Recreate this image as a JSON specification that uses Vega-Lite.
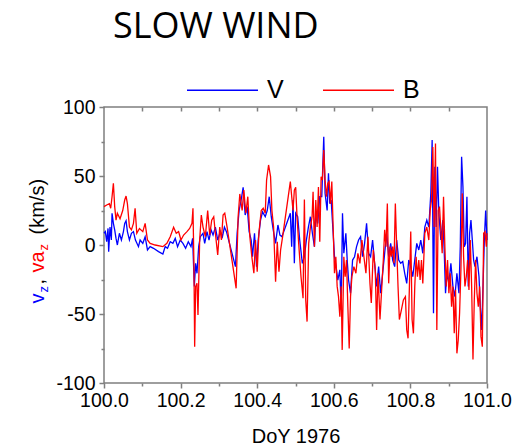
{
  "$schema": "https://vega.github.io/schema/vega-lite/v6.json",
  "width": 383,
  "height": 276,
  "autosize": {"type": "none"},
  "padding": {"left": 104, "top": 107, "right": 41, "bottom": 63},
  "background": "white",
  "title": {"text": "SLOW WIND", "font": "Open Sans", "fontSize": 36, "fontWeight": "normal", "color": "black", "anchor": "start", "frame": "group", "dx": 9, "dy": 20.5, "baseline": "alphabetic", "offset": 0},
  "config": {
    "view": {"stroke": "#7f7f7f", "strokeWidth": 1.5},
    "axis": {"grid": false, "domain": false, "labelFont": "Liberation Sans", "titleFont": "Liberation Sans", "labelColor": "black", "titleColor": "black", "tickColor": "#7f7f7f", "tickWidth": 1.5, "titleFontWeight": "normal"}
  },
  "datasets": {
    "main": [
      {"t":100.0000,"v":8.5,"s":"V"},{"t":100.0035,"v":9.7,"s":"V"},{"t":100.0070,"v":2.4,"s":"V"},{"t":100.0105,"v":12,"s":"V"},{"t":100.0122,"v":-4.8,"s":"V"},{"t":100.0157,"v":13,"s":"V"},{"t":100.0192,"v":3.6,"s":"V"},{"t":100.0210,"v":23,"s":"V"},{"t":100.0245,"v":15.7,"s":"V"},{"t":100.0279,"v":11,"s":"V"},{"t":100.0314,"v":4.8,"s":"V"},{"t":100.0349,"v":0,"s":"V"},{"t":100.0402,"v":8.5,"s":"V"},{"t":100.0454,"v":3.6,"s":"V"},{"t":100.0507,"v":9.7,"s":"V"},{"t":100.0541,"v":15.7,"s":"V"},{"t":100.0576,"v":17.6,"s":"V"},{"t":100.0611,"v":9.7,"s":"V"},{"t":100.0664,"v":3.6,"s":"V"},{"t":100.0716,"v":8.5,"s":"V"},{"t":100.0769,"v":9.7,"s":"V"},{"t":100.0821,"v":3.6,"s":"V"},{"t":100.0900,"v":-1.2,"s":"V"},{"t":100.0943,"v":3.6,"s":"V"},{"t":100.1013,"v":1.2,"s":"V"},{"t":100.1074,"v":6,"s":"V"},{"t":100.1135,"v":-3.6,"s":"V"},{"t":100.1205,"v":-1.2,"s":"V"},{"t":100.1293,"v":-2.4,"s":"V"},{"t":100.1424,"v":-4.8,"s":"V"},{"t":100.1537,"v":-6.5,"s":"V"},{"t":100.1598,"v":-1.2,"s":"V"},{"t":100.1659,"v":-2.4,"s":"V"},{"t":100.1729,"v":2.4,"s":"V"},{"t":100.1799,"v":1.2,"s":"V"},{"t":100.1860,"v":4.8,"s":"V"},{"t":100.1921,"v":-1.2,"s":"V"},{"t":100.1991,"v":3.6,"s":"V"},{"t":100.2061,"v":1.2,"s":"V"},{"t":100.2131,"v":-2.4,"s":"V"},{"t":100.2201,"v":2.4,"s":"V"},{"t":100.2271,"v":-1.2,"s":"V"},{"t":100.2314,"v":4.8,"s":"V"},{"t":100.2358,"v":-30,"s":"V"},{"t":100.2393,"v":-13.3,"s":"V"},{"t":100.2428,"v":-20.5,"s":"V"},{"t":100.2472,"v":-1.2,"s":"V"},{"t":100.2515,"v":6,"s":"V"},{"t":100.2585,"v":8.5,"s":"V"},{"t":100.2629,"v":1.2,"s":"V"},{"t":100.2690,"v":9.7,"s":"V"},{"t":100.2742,"v":3.6,"s":"V"},{"t":100.2795,"v":11,"s":"V"},{"t":100.2847,"v":7.2,"s":"V"},{"t":100.2908,"v":13,"s":"V"},{"t":100.2969,"v":3.6,"s":"V"},{"t":100.3039,"v":9.7,"s":"V"},{"t":100.3092,"v":6,"s":"V"},{"t":100.3144,"v":13,"s":"V"},{"t":100.3197,"v":9.7,"s":"V"},{"t":100.3432,"v":-15.7,"s":"V"},{"t":100.3476,"v":8.5,"s":"V"},{"t":100.3528,"v":25,"s":"V"},{"t":100.3581,"v":32.6,"s":"V"},{"t":100.3633,"v":41.8,"s":"V"},{"t":100.3686,"v":21.7,"s":"V"},{"t":100.3738,"v":27.8,"s":"V"},{"t":100.3790,"v":9.7,"s":"V"},{"t":100.3843,"v":3.6,"s":"V"},{"t":100.3878,"v":-8.5,"s":"V"},{"t":100.3930,"v":8.5,"s":"V"},{"t":100.3983,"v":-15.7,"s":"V"},{"t":100.4026,"v":3.6,"s":"V"},{"t":100.4087,"v":18,"s":"V"},{"t":100.4140,"v":24,"s":"V"},{"t":100.4210,"v":20.5,"s":"V"},{"t":100.4262,"v":25,"s":"V"},{"t":100.4314,"v":35,"s":"V"},{"t":100.4367,"v":20.5,"s":"V"},{"t":100.4419,"v":11,"s":"V"},{"t":100.4480,"v":1.2,"s":"V"},{"t":100.4541,"v":14.5,"s":"V"},{"t":100.4594,"v":7.2,"s":"V"},{"t":100.4646,"v":6,"s":"V"},
      {"t":100.4865,"v":23,"s":"V"},{"t":100.4900,"v":-1.2,"s":"V"},{"t":100.4935,"v":32.6,"s":"V"},{"t":100.4970,"v":-13.3,"s":"V"},{"t":100.5005,"v":23,"s":"V"},{"t":100.5057,"v":20.5,"s":"V"},{"t":100.5110,"v":3.6,"s":"V"},{"t":100.5179,"v":-13.3,"s":"V"},{"t":100.5232,"v":-8.5,"s":"V"},{"t":100.5284,"v":3.6,"s":"V"},{"t":100.5337,"v":13,"s":"V"},{"t":100.5389,"v":20.5,"s":"V"},{"t":100.5441,"v":8.5,"s":"V"},{"t":100.5494,"v":-1.2,"s":"V"},{"t":100.5529,"v":21.7,"s":"V"},{"t":100.5581,"v":15.7,"s":"V"},{"t":100.5634,"v":35,"s":"V"},{"t":100.5686,"v":35,"s":"V"},{"t":100.5738,"v":78.5,"s":"V"},{"t":100.5773,"v":37.4,"s":"V"},{"t":100.5826,"v":25,"s":"V"},{"t":100.5861,"v":52,"s":"V"},{"t":100.5896,"v":30,"s":"V"},{"t":100.5931,"v":32.6,"s":"V"},{"t":100.5983,"v":8.5,"s":"V"},{"t":100.6018,"v":-8.5,"s":"V"},{"t":100.6070,"v":-18,"s":"V"},{"t":100.6105,"v":-25.4,"s":"V"},{"t":100.6158,"v":-18,"s":"V"},{"t":100.6193,"v":-47,"s":"V"},{"t":100.6227,"v":23,"s":"V"},{"t":100.6262,"v":-6,"s":"V"},{"t":100.6315,"v":8.5,"s":"V"},{"t":100.6350,"v":-10.9,"s":"V"},{"t":100.6385,"v":-25.4,"s":"V"},{"t":100.6437,"v":-35,"s":"V"},{"t":100.6490,"v":-10.9,"s":"V"},{"t":100.6542,"v":-8.5,"s":"V"},{"t":100.6594,"v":-1.2,"s":"V"},{"t":100.6647,"v":3.6,"s":"V"},{"t":100.6699,"v":6,"s":"V"},{"t":100.6752,"v":-8.5,"s":"V"},{"t":100.6804,"v":1.2,"s":"V"},{"t":100.6856,"v":15.7,"s":"V"},{"t":100.6909,"v":-6,"s":"V"},{"t":100.6961,"v":-8.5,"s":"V"},{"t":100.7013,"v":3.6,"s":"V"},{"t":100.7066,"v":-13.3,"s":"V"},{"t":100.7118,"v":-30,"s":"V"},{"t":100.7171,"v":-15.7,"s":"V"},{"t":100.7223,"v":-35,"s":"V"},{"t":100.7275,"v":-20.5,"s":"V"},{"t":100.7328,"v":-6,"s":"V"},{"t":100.7380,"v":8.5,"s":"V"},{"t":100.7433,"v":-8.5,"s":"V"},{"t":100.7485,"v":1.2,"s":"V"},{"t":100.7537,"v":-10.9,"s":"V"},{"t":100.7590,"v":-15.7,"s":"V"},{"t":100.7642,"v":3.6,"s":"V"},{"t":100.7695,"v":-10.9,"s":"V"},{"t":100.7747,"v":-13.3,"s":"V"},{"t":100.7800,"v":-12,"s":"V"},{"t":100.7852,"v":-20.5,"s":"V"},{"t":100.7904,"v":-27.8,"s":"V"},{"t":100.7957,"v":-10.9,"s":"V"},{"t":100.8009,"v":-15.7,"s":"V"},{"t":100.8062,"v":-23,"s":"V"},{"t":100.8114,"v":-10.9,"s":"V"},{"t":100.8166,"v":1.2,"s":"V"},{"t":100.8219,"v":-3.6,"s":"V"},{"t":100.8271,"v":3.6,"s":"V"},{"t":100.8324,"v":-6,"s":"V"},{"t":100.8376,"v":13,"s":"V"},{"t":100.8428,"v":18,"s":"V"},{"t":100.8481,"v":13,"s":"V"},{"t":100.8533,"v":37.4,"s":"V"},{"t":100.8568,"v":76,"s":"V"},{"t":100.8603,"v":-49.5,"s":"V"},{"t":100.8638,"v":56.7,"s":"V"},{"t":100.8673,"v":13,"s":"V"},{"t":100.8708,"v":56.7,"s":"V"},{"t":100.8743,"v":23,"s":"V"},{"t":100.8795,"v":3.6,"s":"V"},{"t":100.8847,"v":18,"s":"V"},{"t":100.8882,"v":-3.6,"s":"V"},{"t":100.8917,"v":-35,"s":"V"},{"t":100.8952,"v":-20.5,"s":"V"},{"t":100.9005,"v":-27.8,"s":"V"},{"t":100.9057,"v":-13.3,"s":"V"},{"t":100.9110,"v":-30,"s":"V"},{"t":100.9162,"v":-37.4,"s":"V"},{"t":100.9214,"v":-20.5,"s":"V"},{"t":100.9267,"v":-35,"s":"V"},{"t":100.9302,"v":-1.2,"s":"V"},{"t":100.9337,"v":64,"s":"V"},{"t":100.9372,"v":42,"s":"V"},{"t":100.9406,"v":-1.2,"s":"V"},{"t":100.9441,"v":1.2,"s":"V"},{"t":100.9476,"v":35,"s":"V"},{"t":100.9511,"v":-30,"s":"V"},{"t":100.9546,"v":8.5,"s":"V"},{"t":100.9581,"v":18,"s":"V"},{"t":100.9616,"v":3.6,"s":"V"},{"t":100.9651,"v":-10.9,"s":"V"},{"t":100.9686,"v":-15.7,"s":"V"},{"t":100.9738,"v":-8.5,"s":"V"},{"t":100.9791,"v":-23,"s":"V"},{"t":100.9826,"v":-44.7,"s":"V"},{"t":100.9861,"v":-61.6,"s":"V"},{"t":100.9896,"v":-30,"s":"V"},{"t":100.9930,"v":3.6,"s":"V"},{"t":100.9965,"v":25,"s":"V"},{"t":101.0000,"v":3.6,"s":"V"},
      {"t":100.0000,"v":27.8,"s":"B"},{"t":100.0070,"v":29,"s":"B"},{"t":100.0140,"v":30,"s":"B"},{"t":100.0175,"v":26.6,"s":"B"},{"t":100.0210,"v":35,"s":"B"},{"t":100.0245,"v":44.7,"s":"B"},{"t":100.0279,"v":27.8,"s":"B"},{"t":100.0314,"v":18,"s":"B"},{"t":100.0349,"v":23,"s":"B"},{"t":100.0419,"v":19,"s":"B"},{"t":100.0489,"v":25,"s":"B"},{"t":100.0541,"v":32.6,"s":"B"},{"t":100.0576,"v":35.5,"s":"B"},{"t":100.0611,"v":30,"s":"B"},{"t":100.0664,"v":13,"s":"B"},{"t":100.0716,"v":11,"s":"B"},{"t":100.0769,"v":15.7,"s":"B"},{"t":100.0812,"v":26.6,"s":"B"},{"t":100.0856,"v":8.5,"s":"B"},{"t":100.0926,"v":12,"s":"B"},{"t":100.1013,"v":9.7,"s":"B"},{"t":100.1074,"v":15.7,"s":"B"},{"t":100.1135,"v":3.6,"s":"B"},{"t":100.1205,"v":1.2,"s":"B"},{"t":100.1336,"v":0,"s":"B"},{"t":100.1537,"v":-1.2,"s":"B"},{"t":100.1642,"v":1.2,"s":"B"},{"t":100.1729,"v":6,"s":"B"},{"t":100.1817,"v":12.8,"s":"B"},{"t":100.1886,"v":8.5,"s":"B"},{"t":100.1948,"v":9.7,"s":"B"},{"t":100.2009,"v":3.6,"s":"B"},{"t":100.2079,"v":7.2,"s":"B"},{"t":100.2166,"v":9.7,"s":"B"},{"t":100.2236,"v":12,"s":"B"},{"t":100.2297,"v":15.7,"s":"B"},{"t":100.2323,"v":26.6,"s":"B"},{"t":100.2349,"v":-15.7,"s":"B"},{"t":100.2367,"v":-73.7,"s":"B"},{"t":100.2393,"v":-30,"s":"B"},{"t":100.2428,"v":-27.8,"s":"B"},{"t":100.2454,"v":-50.7,"s":"B"},{"t":100.2498,"v":3.6,"s":"B"},{"t":100.2541,"v":21.7,"s":"B"},{"t":100.2585,"v":13,"s":"B"},{"t":100.2646,"v":6,"s":"B"},{"t":100.2707,"v":25,"s":"B"},{"t":100.2760,"v":7.2,"s":"B"},{"t":100.2812,"v":18,"s":"B"},{"t":100.2865,"v":20.5,"s":"B"},{"t":100.2908,"v":8.5,"s":"B"},{"t":100.2969,"v":-7.2,"s":"B"},{"t":100.3022,"v":13,"s":"B"},{"t":100.3066,"v":3.6,"s":"B"},{"t":100.3109,"v":21.7,"s":"B"},{"t":100.3153,"v":23,"s":"B"},{"t":100.3214,"v":13,"s":"B"},{"t":100.3450,"v":-31.4,"s":"B"},{"t":100.3502,"v":20.5,"s":"B"},{"t":100.3546,"v":37,"s":"B"},{"t":100.3607,"v":25,"s":"B"},{"t":100.3651,"v":39.8,"s":"B"},{"t":100.3703,"v":23,"s":"B"},{"t":100.3755,"v":35,"s":"B"},{"t":100.3808,"v":6,"s":"B"},{"t":100.3860,"v":-8.5,"s":"B"},{"t":100.3913,"v":-20.5,"s":"B"},{"t":100.3956,"v":3.6,"s":"B"},{"t":100.4000,"v":-19.3,"s":"B"},{"t":100.4044,"v":8.5,"s":"B"},{"t":100.4105,"v":25,"s":"B"},{"t":100.4157,"v":26.6,"s":"B"},{"t":100.4210,"v":23,"s":"B"},{"t":100.4245,"v":47,"s":"B"},{"t":100.4297,"v":58,"s":"B"},{"t":100.4349,"v":49.5,"s":"B"},{"t":100.4384,"v":25,"s":"B"},{"t":100.4428,"v":13,"s":"B"},{"t":100.4480,"v":-26.6,"s":"B"},{"t":100.4524,"v":2.4,"s":"B"},{"t":100.4568,"v":-19.3,"s":"B"},{"t":100.4611,"v":-3.6,"s":"B"},{"t":100.4664,"v":6,"s":"B"},
      {"t":100.4865,"v":45.9,"s":"B"},{"t":100.4935,"v":25,"s":"B"},{"t":100.4970,"v":39.8,"s":"B"},{"t":100.5005,"v":41.8,"s":"B"},{"t":100.5040,"v":20.5,"s":"B"},{"t":100.5083,"v":1.2,"s":"B"},{"t":100.5144,"v":-23,"s":"B"},{"t":100.5197,"v":-38.6,"s":"B"},{"t":100.5232,"v":33,"s":"B"},{"t":100.5267,"v":-39.8,"s":"B"},{"t":100.5302,"v":-55.5,"s":"B"},{"t":100.5345,"v":1.2,"s":"B"},{"t":100.5389,"v":13,"s":"B"},{"t":100.5433,"v":20.5,"s":"B"},{"t":100.5459,"v":38.6,"s":"B"},{"t":100.5494,"v":-1.2,"s":"B"},{"t":100.5529,"v":32.6,"s":"B"},{"t":100.5564,"v":13,"s":"B"},{"t":100.5599,"v":42,"s":"B"},{"t":100.5634,"v":2.4,"s":"B"},{"t":100.5669,"v":49.5,"s":"B"},{"t":100.5703,"v":47,"s":"B"},{"t":100.5738,"v":68.8,"s":"B"},{"t":100.5773,"v":47,"s":"B"},{"t":100.5808,"v":35,"s":"B"},{"t":100.5843,"v":44.7,"s":"B"},{"t":100.5878,"v":46,"s":"B"},{"t":100.5913,"v":30,"s":"B"},{"t":100.5948,"v":46,"s":"B"},{"t":100.5983,"v":13,"s":"B"},{"t":100.6018,"v":-20.5,"s":"B"},{"t":100.6053,"v":-8.5,"s":"B"},{"t":100.6088,"v":-30,"s":"B"},{"t":100.6123,"v":-37.4,"s":"B"},{"t":100.6158,"v":-52,"s":"B"},{"t":100.6193,"v":-30,"s":"B"},{"t":100.6219,"v":-76,"s":"B"},{"t":100.6262,"v":-8.5,"s":"B"},{"t":100.6297,"v":-23,"s":"B"},{"t":100.6332,"v":-10.9,"s":"B"},{"t":100.6367,"v":-44.7,"s":"B"},{"t":100.6402,"v":-75,"s":"B"},{"t":100.6437,"v":-37.4,"s":"B"},{"t":100.6472,"v":-23,"s":"B"},{"t":100.6524,"v":-15.7,"s":"B"},{"t":100.6577,"v":-20.5,"s":"B"},{"t":100.6629,"v":-6,"s":"B"},{"t":100.6682,"v":-13.3,"s":"B"},{"t":100.6734,"v":3.6,"s":"B"},{"t":100.6786,"v":-8.5,"s":"B"},{"t":100.6839,"v":-20.5,"s":"B"},{"t":100.6891,"v":6,"s":"B"},{"t":100.6944,"v":-27.8,"s":"B"},{"t":100.6979,"v":-42,"s":"B"},{"t":100.7031,"v":-3.6,"s":"B"},{"t":100.7083,"v":-18,"s":"B"},{"t":100.7118,"v":-61.6,"s":"B"},{"t":100.7153,"v":-20.5,"s":"B"},{"t":100.7206,"v":-54,"s":"B"},{"t":100.7249,"v":-32.6,"s":"B"},{"t":100.7293,"v":-10.9,"s":"B"},{"t":100.7328,"v":11,"s":"B"},{"t":100.7363,"v":-1.2,"s":"B"},{"t":100.7398,"v":30,"s":"B"},{"t":100.7433,"v":-27.8,"s":"B"},{"t":100.7468,"v":-1.2,"s":"B"},{"t":100.7502,"v":-8.5,"s":"B"},{"t":100.7537,"v":-1.2,"s":"B"},{"t":100.7572,"v":-13.3,"s":"B"},{"t":100.7607,"v":30,"s":"B"},{"t":100.7642,"v":-1.2,"s":"B"},{"t":100.7677,"v":-30,"s":"B"},{"t":100.7712,"v":-54,"s":"B"},{"t":100.7765,"v":-47,"s":"B"},{"t":100.7817,"v":-39.8,"s":"B"},{"t":100.7870,"v":-37.4,"s":"B"},{"t":100.7904,"v":-61.6,"s":"B"},{"t":100.7939,"v":-67.6,"s":"B"},{"t":100.7974,"v":-30,"s":"B"},{"t":100.8009,"v":9.7,"s":"B"},{"t":100.8044,"v":-54,"s":"B"},{"t":100.8079,"v":-64,"s":"B"},{"t":100.8114,"v":-30,"s":"B"},{"t":100.8149,"v":-8.5,"s":"B"},{"t":100.8184,"v":-23,"s":"B"},{"t":100.8219,"v":-10.9,"s":"B"},{"t":100.8254,"v":-25.4,"s":"B"},{"t":100.8289,"v":-10.9,"s":"B"},{"t":100.8324,"v":-27.8,"s":"B"},{"t":100.8376,"v":8.5,"s":"B"},{"t":100.8428,"v":13,"s":"B"},{"t":100.8481,"v":3.6,"s":"B"},{"t":100.8516,"v":25,"s":"B"},{"t":100.8551,"v":32.6,"s":"B"},{"t":100.8586,"v":71,"s":"B"},{"t":100.8620,"v":13,"s":"B"},{"t":100.8655,"v":73.6,"s":"B"},{"t":100.8690,"v":-61.6,"s":"B"},{"t":100.8725,"v":25,"s":"B"},{"t":100.8760,"v":27.8,"s":"B"},{"t":100.8795,"v":11,"s":"B"},{"t":100.8830,"v":-6,"s":"B"},{"t":100.8865,"v":35,"s":"B"},{"t":100.8900,"v":-1.2,"s":"B"},{"t":100.8935,"v":-30,"s":"B"},{"t":100.8970,"v":-10.9,"s":"B"},{"t":100.9005,"v":-35,"s":"B"},{"t":100.9040,"v":-20.5,"s":"B"},{"t":100.9075,"v":-44.7,"s":"B"},{"t":100.9110,"v":-30,"s":"B"},{"t":100.9145,"v":-64,"s":"B"},{"t":100.9179,"v":-32.6,"s":"B"},{"t":100.9214,"v":-78.5,"s":"B"},{"t":100.9249,"v":-68.8,"s":"B"},{"t":100.9284,"v":-49.5,"s":"B"},{"t":100.9319,"v":-18,"s":"B"},{"t":100.9354,"v":37.4,"s":"B"},{"t":100.9389,"v":-8.5,"s":"B"},{"t":100.9424,"v":-30,"s":"B"},{"t":100.9459,"v":-23,"s":"B"},{"t":100.9494,"v":-10.9,"s":"B"},{"t":100.9529,"v":-32.6,"s":"B"},{"t":100.9564,"v":3.6,"s":"B"},{"t":100.9599,"v":-30,"s":"B"},{"t":100.9634,"v":-83,"s":"B"},{"t":100.9668,"v":-39.8,"s":"B"},{"t":100.9703,"v":-10.9,"s":"B"},{"t":100.9738,"v":-35,"s":"B"},{"t":100.9773,"v":-44.7,"s":"B"},{"t":100.9808,"v":-30,"s":"B"},{"t":100.9843,"v":-66.4,"s":"B"},{"t":100.9878,"v":-73.7,"s":"B"},{"t":100.9913,"v":8.5,"s":"B"},{"t":100.9948,"v":9.7,"s":"B"},{"t":100.9983,"v":-1.2,"s":"B"},{"t":101.0000,"v":8.5,"s":"B"}
    ]
  },
  "data": {"name": "main"},
  "resolve": {"scale": {"x": "shared", "y": "shared", "color": "shared"}, "axis": {"x": "independent", "y": "independent"}},
  "layer": [
    {
      "transform": [{"filter": "datum.s === 'V'"}],
      "mark": {"type": "line", "strokeWidth": 1.3},
      "encoding": {
        "x": {"field": "t", "type": "quantitative", "scale": {"domain": [100, 101], "nice": false, "zero": false},
          "axis": {"orient": "bottom", "values": [100, 100.2, 100.4, 100.6, 100.8, 101], "format": ".1f", "labelFontSize": 19.5, "tickSize": 5, "labelPadding": 3, "labelFlush": false, "labelOverlap": false, "title": "DoY 1976", "titleFontSize": 20, "titleY": 59, "titleBaseline": "alphabetic"}},
        "y": {"field": "v", "type": "quantitative", "scale": {"domain": [-100, 100], "nice": false, "zero": false},
          "axis": {"orient": "left", "values": [-100, -50, 0, 50, 100], "labelExpr": "datum.value < 0 ? '-' + abs(datum.value) : '' + datum.value", "labelFontSize": 19.5, "tickSize": 5, "labelPadding": 4, "labelFlush": false, "labelOverlap": false, "title": "v", "titleColor": "#0000ff", "titleFontSize": 20, "titleAngle": 270, "titleAlign": "left", "titleBaseline": "alphabetic", "titleX": -61, "titleY": 196}},
        "color": {"field": "s", "type": "nominal", "scale": {"domain": ["V", "B"], "range": ["#0000ff", "#ff0000"]},
          "legend": {"orient": "none", "legendX": 82, "legendY": -53.5, "direction": "horizontal", "title": null, "symbolType": "stroke", "symbolSize": 5041, "symbolStrokeWidth": 1.5, "labelFont": "Liberation Sans", "labelFontSize": 25, "labelColor": "black", "labelOffset": 8, "columnPadding": 36, "padding": 0}}
      }
    },
    {
      "transform": [{"filter": "datum.s === 'B'"}],
      "mark": {"type": "line", "strokeWidth": 1.3},
      "encoding": {
        "x": {"field": "t", "type": "quantitative",
          "axis": {"orient": "bottom", "values": [100.1, 100.3, 100.5, 100.7, 100.9], "labels": false, "tickSize": 3, "title": null}},
        "y": {"field": "v", "type": "quantitative",
          "axis": {"orient": "left", "labels": false, "ticks": false, "title": "va", "titleColor": "#ff0000", "titleFontSize": 20, "titleAngle": 270, "titleAlign": "left", "titleBaseline": "alphabetic", "titleX": -61, "titleY": 165}},
        "color": {"field": "s", "type": "nominal"}
      }
    },
    {
      "transform": [{"filter": "false"}],
      "mark": {"type": "point", "opacity": 0},
      "encoding": {
        "x": {"field": "t", "type": "quantitative",
          "axis": {"orient": "top", "values": [100.1, 100.2, 100.3, 100.4, 100.5, 100.6, 100.7, 100.8, 100.9], "labels": false, "tickSize": 4, "offset": -4, "title": null}},
        "y": {"field": "v", "type": "quantitative",
          "axis": {"orient": "left", "values": [-75, -25, 25, 75], "labels": false, "tickSize": 3, "title": "(km/s)", "titleFontSize": 20, "titleAngle": 270, "titleAlign": "left", "titleBaseline": "alphabetic", "titleX": -61, "titleY": 127}}
      }
    },
    {
      "transform": [{"filter": "false"}],
      "mark": {"type": "point", "opacity": 0},
      "encoding": {
        "y": {"field": "v", "type": "quantitative",
          "axis": {"orient": "left", "labels": false, "ticks": false, "title": "z", "titleColor": "#0000ff", "titleFontSize": 13, "titleAngle": 270, "titleAlign": "left", "titleBaseline": "alphabetic", "titleX": -57, "titleY": 185}}
      }
    },
    {
      "transform": [{"filter": "false"}],
      "mark": {"type": "point", "opacity": 0},
      "encoding": {
        "y": {"field": "v", "type": "quantitative",
          "axis": {"orient": "left", "labels": false, "ticks": false, "title": ",", "titleFontSize": 20, "titleAngle": 270, "titleAlign": "left", "titleBaseline": "alphabetic", "titleX": -61, "titleY": 177}}
      }
    },
    {
      "transform": [{"filter": "false"}],
      "mark": {"type": "point", "opacity": 0},
      "encoding": {
        "y": {"field": "v", "type": "quantitative",
          "axis": {"orient": "left", "labels": false, "ticks": false, "title": "z", "titleColor": "#ff0000", "titleFontSize": 13, "titleAngle": 270, "titleAlign": "left", "titleBaseline": "alphabetic", "titleX": -57, "titleY": 143}}
      }
    }
  ]
}
